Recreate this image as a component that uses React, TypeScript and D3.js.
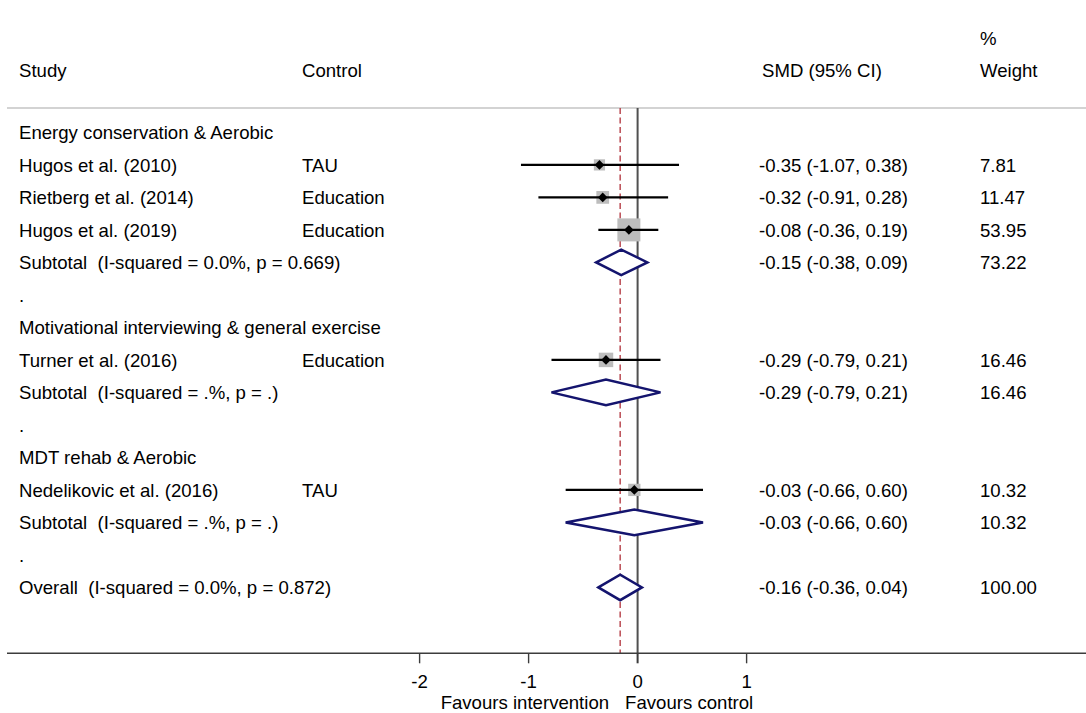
import React from "react";
import * as d3 from "d3";

// Subgroups of the meta-analysis
const groupNames = [
  "Energy conservation & Aerobic",
  "Motivational interviewing & general exercise",
  "MDT rehab & Aerobic",
];

// Individual studies
const studyLabels = [
  "Hugos et al. (2010)",
  "Rietberg et al. (2014)",
  "Hugos et al. (2019)",
  "Turner et al. (2016)",
  "Nedelikovic et al. (2016)",
];
const studyGroup = [0, 0, 0, 1, 2];
const studyControl = ["TAU", "Education", "Education", "Education", "TAU"];
const studySMD = [-0.35, -0.32, -0.08, -0.29, -0.03];
const studyLow = [-1.07, -0.91, -0.36, -0.79, -0.66];
const studyHigh = [0.38, 0.28, 0.19, 0.21, 0.6];
const studyWeight = [7.81, 11.47, 53.95, 16.46, 10.32];

// Pooled subgroup estimates
const subtotalLabels = [
  "Subtotal  (I-squared = 0.0%, p = 0.669)",
  "Subtotal  (I-squared = .%, p = .)",
  "Subtotal  (I-squared = .%, p = .)",
];
const subtotalSMD = [-0.15, -0.29, -0.03];
const subtotalLow = [-0.38, -0.79, -0.66];
const subtotalHigh = [0.09, 0.21, 0.6];
const subtotalWeight = [73.22, 16.46, 10.32];

// Overall pooled estimate
const overallLabel = "Overall  (I-squared = 0.0%, p = 0.872)";
const overallSMD = -0.16;
const overallLow = -0.36;
const overallHigh = 0.04;
const overallWeight = 100.0;

const axisTicks = [-2, -1, 0, 1];
const favourLeft = "Favours intervention";
const favourRight = "Favours control";

const W = 1086;
const H = 713;
const FONT = "'Liberation Sans', Arial, Helvetica, sans-serif";
const FS = 18.6;

type Row =
  | { kind: "group"; label: string }
  | { kind: "study"; i: number }
  | { kind: "subtotal"; g: number }
  | { kind: "blank" }
  | { kind: "overall" };

function buildRows(): Row[] {
  const rows: Row[] = [];
  groupNames.forEach((name, g) => {
    rows.push({ kind: "group", label: name });
    studyLabels.forEach((_, i) => {
      if (studyGroup[i] === g) rows.push({ kind: "study", i });
    });
    rows.push({ kind: "subtotal", g });
    rows.push({ kind: "blank" });
  });
  rows.push({ kind: "overall" });
  return rows;
}

const fmt = (v: number) => v.toFixed(2);
const ciText = (m: number, lo: number, hi: number) =>
  `${fmt(m)} (${fmt(lo)}, ${fmt(hi)})`;

export default function App() {
  const rows = buildRows();

  const x = d3.scaleLinear().domain([0, 1]).range([637.6, 746.6]);
  const y = d3
    .scaleLinear()
    .domain([0, 1])
    .range([132.4, 132.4 + 32.5]);
  const boxSide = d3
    .scaleLinear()
    .domain([Math.sqrt(7.81), Math.sqrt(53.95)])
    .range([11.2, 23]);

  const colStudy = 19;
  const colControl = 302;
  const colCI = 759;
  const colWeight = 980;
  const headerLineY = 108;
  const axisY = 653.3;
  const diamondHalf = 12.8;

  const navy = "#14146e";

  const diamond = (m: number, lo: number, hi: number, cy: number) => {
    const path = d3.path();
    path.moveTo(x(lo), cy);
    path.lineTo(x(m), cy - diamondHalf);
    path.lineTo(x(hi), cy);
    path.lineTo(x(m), cy + diamondHalf);
    path.closePath();
    return path.toString();
  };

  const textProps = {
    fontFamily: FONT,
    fontSize: FS,
    fill: "#000",
    style: { whiteSpace: "pre" as const },
  };
  const base = (cy: number) => cy + 6.7;

  return (
    <svg
      width={W}
      height={H}
      style={{ position: "absolute", left: 0, top: 0, background: "#fff" }}
    >
      <rect x={0} y={0} width={W} height={H} fill="#fff" />

      {/* column headers */}
      <text {...textProps} x={colStudy} y={base(70)}>Study</text>
      <text {...textProps} x={colControl} y={base(70)}>Control</text>
      <text {...textProps} x={762} y={base(70)}>SMD (95% CI)</text>
      <text {...textProps} x={colWeight} y={base(38.5)}>%</text>
      <text {...textProps} x={colWeight} y={base(70)}>Weight</text>
      <line
        x1={7}
        x2={W}
        y1={headerLineY}
        y2={headerLineY}
        stroke="#c4c4c4"
        strokeWidth={1.5}
      />

      {/* reference lines */}
      <line
        x1={x(0)}
        x2={x(0)}
        y1={headerLineY}
        y2={axisY}
        stroke="#505050"
        strokeWidth={2}
      />
      <line
        x1={x(overallSMD)}
        x2={x(overallSMD)}
        y1={headerLineY}
        y2={axisY}
        stroke="#b0303a"
        strokeWidth={1.3}
        strokeDasharray="6,3.5"
      />

      {rows.map((r, k) => {
        const cy = y(k);
        if (r.kind === "group") {
          return (
            <text key={k} {...textProps} x={colStudy} y={base(cy)}>
              {r.label}
            </text>
          );
        }
        if (r.kind === "blank") {
          return (
            <text key={k} {...textProps} x={colStudy} y={base(cy)}>
              .
            </text>
          );
        }
        if (r.kind === "study") {
          const i = r.i;
          const s = boxSide(Math.sqrt(studyWeight[i]));
          const cx = x(studySMD[i]);
          const m = 4.8;
          return (
            <g key={k}>
              <text {...textProps} x={colStudy} y={base(cy)}>
                {studyLabels[i]}
              </text>
              <text {...textProps} x={colControl} y={base(cy)}>
                {studyControl[i]}
              </text>
              <rect
                x={cx - s / 2}
                y={cy - s / 2}
                width={s}
                height={s}
                fill="#bdbdbd"
              />
              <line
                x1={x(studyLow[i])}
                x2={x(studyHigh[i])}
                y1={cy}
                y2={cy}
                stroke="#000"
                strokeWidth={2.3}
              />
              <path
                d={`M${cx - m},${cy}L${cx},${cy - m}L${cx + m},${cy}L${cx},${cy + m}Z`}
                fill="#000"
              />
              <text {...textProps} x={colCI} y={base(cy)}>
                {ciText(studySMD[i], studyLow[i], studyHigh[i])}
              </text>
              <text {...textProps} x={colWeight} y={base(cy)}>
                {fmt(studyWeight[i])}
              </text>
            </g>
          );
        }
        const isOverall = r.kind === "overall";
        const g = isOverall ? -1 : (r as { g: number }).g;
        const label = isOverall ? overallLabel : subtotalLabels[g];
        const m = isOverall ? overallSMD : subtotalSMD[g];
        const lo = isOverall ? overallLow : subtotalLow[g];
        const hi = isOverall ? overallHigh : subtotalHigh[g];
        const w = isOverall ? overallWeight : subtotalWeight[g];
        return (
          <g key={k}>
            <text {...textProps} x={colStudy} y={base(cy)}>
              {label}
            </text>
            <path
              d={diamond(m, lo, hi, cy)}
              fill="#fff"
              stroke={navy}
              strokeWidth={2.5}
              strokeLinejoin="miter"
            />
            <text {...textProps} x={colCI} y={base(cy)}>
              {ciText(m, lo, hi)}
            </text>
            <text {...textProps} x={colWeight} y={base(cy)}>
              {fmt(w)}
            </text>
          </g>
        );
      })}

      {/* x axis */}
      <line
        x1={7}
        x2={W}
        y1={axisY}
        y2={axisY}
        stroke="#3c3c3c"
        strokeWidth={1.6}
      />
      {axisTicks.map((t) => (
        <g key={t}>
          <line
            x1={x(t)}
            x2={x(t)}
            y1={axisY}
            y2={axisY + 10}
            stroke="#3c3c3c"
            strokeWidth={t === 0 ? 2 : 1.4}
          />
          <text
            {...textProps}
            x={x(t)}
            y={base(681)}
            textAnchor="middle"
          >
            {t}
          </text>
        </g>
      ))}
      <text {...textProps} x={x(0) - 28.5} y={base(702)} textAnchor="end">
        {favourLeft}
      </text>
      <text {...textProps} x={x(0) - 12.5} y={base(702)}>
        {favourRight}
      </text>
    </svg>
  );
}
